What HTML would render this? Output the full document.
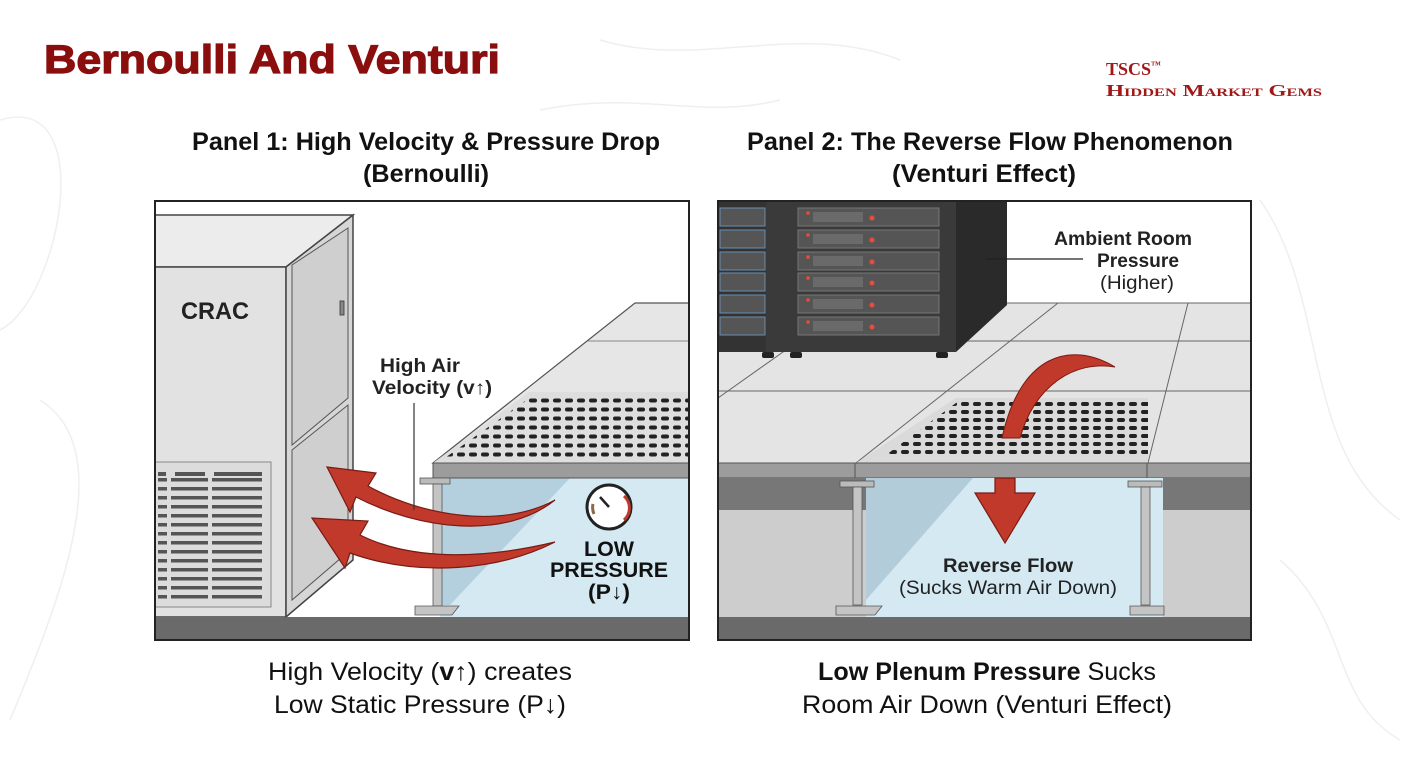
<!DOCTYPE html>
<html><head><meta charset="utf-8"><style>
html,body{margin:0;padding:0;background:#fff}
svg{display:block}
text{font-family:"Liberation Sans",sans-serif}
</style></head><body>
<svg width="1405" height="766" viewBox="0 0 1405 766" xmlns="http://www.w3.org/2000/svg">
<defs>
<pattern id="holes" x="0" y="0" width="12" height="9" patternUnits="userSpaceOnUse">
<rect x="1" y="2.5" width="8" height="4" rx="2" fill="#222"/>
</pattern>
<pattern id="holes2" x="0" y="0" width="12" height="8" patternUnits="userSpaceOnUse">
<rect x="1" y="2" width="8" height="4" rx="2" fill="#222"/>
</pattern>
</defs>
<rect width="1405" height="766" fill="#fff"/>
<g fill="none" stroke="#f1eeee" stroke-width="1.5">
<path d="M0 120 C100 90 60 300 0 330"/><path d="M40 400 C120 450 60 600 10 720"/>
<path d="M1260 200 C1330 300 1300 450 1400 520"/><path d="M1280 560 C1350 620 1330 700 1400 740"/>
<path d="M600 40 C700 70 800 20 900 60"/><path d="M540 110 C640 90 700 120 780 100"/>
</g>
<!-- Title -->
<text x="44" y="73" font-size="40" font-weight="bold" fill="#8b0e0e" stroke="#8b0e0e" stroke-width="1.2" textLength="456" lengthAdjust="spacingAndGlyphs">Bernoulli And Venturi</text>
<text x="1106" y="75" font-size="18" font-weight="bold" fill="#a01818" style="font-family:'Liberation Serif',serif">TSCS<tspan font-size="10" dy="-7">™</tspan></text>
<text x="1106" y="96" font-size="17" font-weight="bold" fill="#a01818" style="font-family:'Liberation Serif',serif;font-variant:small-caps" textLength="216" lengthAdjust="spacingAndGlyphs">Hidden Market Gems</text>

<!-- Panel titles -->
<text x="426" y="150" font-size="25" font-weight="bold" fill="#111" text-anchor="middle" textLength="468" lengthAdjust="spacingAndGlyphs">Panel 1: High Velocity &amp; Pressure Drop</text>
<text x="426" y="182" font-size="25" font-weight="bold" fill="#111" text-anchor="middle" textLength="126" lengthAdjust="spacingAndGlyphs">(Bernoulli)</text>
<text x="990" y="150" font-size="25" font-weight="bold" fill="#111" text-anchor="middle" textLength="486" lengthAdjust="spacingAndGlyphs">Panel 2: The Reverse Flow Phenomenon</text>
<text x="984" y="182" font-size="25" font-weight="bold" fill="#111" text-anchor="middle" textLength="184" lengthAdjust="spacingAndGlyphs">(Venturi Effect)</text>

<!-- PANEL 1 -->
<g>
<rect x="155" y="201" width="534" height="439" fill="#fff"/>
<rect x="440" y="478" width="249" height="139" fill="#d5e9f3"/>
<polygon points="440,478 570,478 450,605 440,605" fill="#b4d0de"/>
<!-- CRAC -->
<polygon points="155,215 353,215 286,267 155,267" fill="#ececec" stroke="#444" stroke-width="1.5"/>
<rect x="155" y="267" width="131" height="350" fill="#e2e2e2" stroke="#444" stroke-width="1.5"/>
<polygon points="286,267 353,215 353,560 286,617" fill="#d6d6d6" stroke="#444" stroke-width="1.5"/>
<polygon points="292,265 348,228 348,398 292,445" fill="#cfcfcf" stroke="#555" stroke-width="1"/>
<polygon points="292,450 348,405 348,552 292,600" fill="#cfcfcf" stroke="#555" stroke-width="1"/>
<rect x="340" y="301" width="4" height="14" fill="#888" stroke="#333" stroke-width="0.8"/>
<text x="181" y="319" font-size="24" font-weight="bold" fill="#222" textLength="68" lengthAdjust="spacingAndGlyphs">CRAC</text>
<rect x="155" y="462" width="116" height="145" fill="#dcdcdc" stroke="#888" stroke-width="1"/>
<g fill="#555">
<rect x="158" y="472" width="8" height="4"/><rect x="175" y="472" width="30" height="4"/><rect x="214" y="472" width="48" height="4"/>
</g>
<g fill="#555">
<rect x="158" y="478" width="104" height="3.5"/><rect x="158" y="487" width="104" height="3.5"/><rect x="158" y="496" width="104" height="3.5"/><rect x="158" y="505" width="104" height="3.5"/><rect x="158" y="514" width="104" height="3.5"/><rect x="158" y="523" width="104" height="3.5"/><rect x="158" y="532" width="104" height="3.5"/><rect x="158" y="541" width="104" height="3.5"/><rect x="158" y="550" width="104" height="3.5"/><rect x="158" y="559" width="104" height="3.5"/><rect x="158" y="568" width="104" height="3.5"/><rect x="158" y="577" width="104" height="3.5"/><rect x="158" y="586" width="104" height="3.5"/><rect x="158" y="595" width="104" height="3.5"/>
</g>
<rect x="167" y="470" width="4" height="132" fill="#dcdcdc"/><rect x="208" y="470" width="4" height="132" fill="#dcdcdc"/>
<!-- raised floor -->
<polygon points="433,463 635,303 689,303 689,463" fill="#e6e6e6" stroke="#555" stroke-width="1.2"/>
<line x1="588" y1="341" x2="689" y2="341" stroke="#888" stroke-width="1"/>
<polygon points="433,463 529,392 689,392 689,463" fill="#dedede"/>
<polygon points="442,460 532,396 689,396 689,460" fill="url(#holes)"/>
<polygon points="433,463 689,463 689,478 433,478" fill="#9c9c9c" stroke="#555" stroke-width="1"/>
<rect x="420" y="478" width="30" height="6" fill="#bbb" stroke="#555" stroke-width="0.8"/>
<rect x="433" y="484" width="9" height="122" fill="#c4c4c4" stroke="#555" stroke-width="0.8"/>
<polygon points="415,606 459,606 452,615 415,615" fill="#c4c4c4" stroke="#555" stroke-width="0.8"/>
<rect x="155" y="617" width="534" height="23" fill="#6a6a6a"/>
<!-- arrows -->
<path d="M555,500 C500,530 420,515 368,486 L376,473 L327,467 L350,512 L356,497 C420,530 505,540 555,500 Z" fill="#c0392b" stroke="#7a1a12" stroke-width="1.2"/>
<path d="M555,542 C480,560 410,560 360,535 L368,521 L312,518 L345,568 L350,553 C420,578 500,570 555,542 Z" fill="#c0392b" stroke="#7a1a12" stroke-width="1.2"/>
<line x1="414" y1="403" x2="414" y2="510" stroke="#333" stroke-width="1.2"/>
<text x="420" y="372" font-size="19" font-weight="bold" fill="#222" text-anchor="middle" textLength="80" lengthAdjust="spacingAndGlyphs">High Air</text>
<text x="432" y="394" font-size="19" font-weight="bold" fill="#222" text-anchor="middle" textLength="120" lengthAdjust="spacingAndGlyphs">Velocity (v↑)</text>
<circle cx="609" cy="507" r="22" fill="#fff" stroke="#222" stroke-width="3"/>
<path d="M624,496 A16,16 0 0 1 624,520" fill="none" stroke="#c0392b" stroke-width="3"/>
<path d="M594,514 A16,16 0 0 1 593,504" fill="none" stroke="#8a6a4a" stroke-width="3"/>
<line x1="609" y1="507" x2="600" y2="497" stroke="#222" stroke-width="2.5"/>
<text x="609" y="556" font-size="21" font-weight="bold" fill="#111" text-anchor="middle" textLength="50" lengthAdjust="spacingAndGlyphs">LOW</text>
<text x="609" y="577" font-size="21" font-weight="bold" fill="#111" text-anchor="middle" textLength="118" lengthAdjust="spacingAndGlyphs">PRESSURE</text>
<text x="609" y="599" font-size="21" font-weight="bold" fill="#111" text-anchor="middle" textLength="42" lengthAdjust="spacingAndGlyphs">(P↓)</text>
<rect x="155" y="201" width="534" height="439" fill="none" stroke="#222" stroke-width="2"/>
</g>

<!-- PANEL 2 -->
<g>
<rect x="718" y="201" width="533" height="439" fill="#fff"/>
<rect x="718" y="303" width="533" height="160" fill="#e4e4e4"/>
<g stroke="#666" stroke-width="1" fill="none">
<line x1="718" y1="341" x2="1251" y2="341"/><line x1="718" y1="391" x2="1251" y2="391"/>
<line x1="718" y1="303" x2="1251" y2="303"/>
<line x1="718" y1="398" x2="800" y2="340"/><line x1="856" y1="463" x2="1058" y2="303"/>
<line x1="1148" y1="463" x2="1188" y2="303"/>
</g>
<rect x="718" y="201" width="238" height="151" fill="#3a3a3a"/>
<polygon points="956,201 1007,201 1007,305 956,352" fill="#2a2a2a"/>
<rect x="718" y="201" width="48" height="151" fill="#333"/>
<g fill="#555" stroke="#6a8fb0" stroke-width="1">
<rect x="720" y="208" width="45" height="18"/><rect x="720" y="230" width="45" height="18"/><rect x="720" y="252" width="45" height="18"/><rect x="720" y="273" width="45" height="18"/><rect x="720" y="295" width="45" height="18"/><rect x="720" y="317" width="45" height="18"/>
</g>
<g fill="#555" stroke="#777">
<rect x="798" y="208" width="141" height="18"/><rect x="798" y="230" width="141" height="18"/><rect x="798" y="252" width="141" height="18"/><rect x="798" y="273" width="141" height="18"/><rect x="798" y="295" width="141" height="18"/><rect x="798" y="317" width="141" height="18"/>
</g>
<g fill="#e74c3c">
<circle cx="872" cy="218" r="2.5"/><circle cx="872" cy="240" r="2.5"/><circle cx="872" cy="262" r="2.5"/><circle cx="872" cy="283" r="2.5"/><circle cx="872" cy="305" r="2.5"/><circle cx="872" cy="327" r="2.5"/>
<circle cx="808" cy="213" r="1.8"/><circle cx="808" cy="235" r="1.8"/><circle cx="808" cy="257" r="1.8"/><circle cx="808" cy="278" r="1.8"/><circle cx="808" cy="300" r="1.8"/><circle cx="808" cy="322" r="1.8"/>
</g>
<g fill="#6a6a6a">
<rect x="813" y="212" width="50" height="10"/><rect x="813" y="234" width="50" height="10"/><rect x="813" y="256" width="50" height="10"/><rect x="813" y="277" width="50" height="10"/><rect x="813" y="299" width="50" height="10"/><rect x="813" y="321" width="50" height="10"/>
</g>
<g fill="#222"><rect x="762" y="352" width="12" height="6" rx="2"/><rect x="790" y="352" width="12" height="6" rx="2"/><rect x="936" y="352" width="12" height="6" rx="2"/></g>
<polygon points="856,463 956,398 1148,398 1148,463" fill="#dadada"/>
<polygon points="882,458 960,400 1148,400 1148,458" fill="url(#holes2)"/>
<rect x="718" y="463" width="533" height="15" fill="#9c9c9c" stroke="#555" stroke-width="1"/>
<line x1="855" y1="463" x2="855" y2="478" stroke="#555"/><line x1="1147" y1="463" x2="1147" y2="478" stroke="#555"/>
<rect x="718" y="478" width="533" height="32" fill="#777"/>
<rect x="718" y="510" width="533" height="107" fill="#cdcdcd"/>
<rect x="866" y="478" width="297" height="139" fill="#d5e9f3"/>
<polygon points="866,478 973,478 866,600" fill="#b2ccd9"/>
<rect x="840" y="481" width="34" height="6" fill="#bbb" stroke="#555" stroke-width="0.8"/>
<rect x="853" y="487" width="9" height="118" fill="#c4c4c4" stroke="#555" stroke-width="0.8"/>
<polygon points="836,606 882,606 875,615 836,615" fill="#c4c4c4" stroke="#555" stroke-width="0.8"/>
<rect x="1128" y="481" width="34" height="6" fill="#bbb" stroke="#555" stroke-width="0.8"/>
<rect x="1141" y="487" width="9" height="118" fill="#c4c4c4" stroke="#555" stroke-width="0.8"/>
<polygon points="1130,606 1164,606 1164,615 1130,615" fill="#c4c4c4" stroke="#555" stroke-width="0.8"/>
<rect x="718" y="617" width="533" height="23" fill="#6a6a6a"/>
<path d="M1115,367 C1070,340 1020,355 1002,438 L1020,438 C1035,385 1075,360 1115,367 Z" fill="#c0392b" stroke="#7a1a12" stroke-width="1"/>
<path d="M995,478 L995,493 L975,493 L1005,543 L1035,493 L1015,493 L1015,478 Z" fill="#c0392b" stroke="#7a1a12" stroke-width="1.2"/>
<line x1="986" y1="259" x2="1083" y2="259" stroke="#222" stroke-width="1.2"/>
<text x="1123" y="245" font-size="19" font-weight="bold" fill="#222" text-anchor="middle" textLength="138" lengthAdjust="spacingAndGlyphs">Ambient Room</text>
<text x="1138" y="267" font-size="19" font-weight="bold" fill="#222" text-anchor="middle" textLength="82" lengthAdjust="spacingAndGlyphs">Pressure</text>
<text x="1137" y="289" font-size="19" fill="#222" text-anchor="middle" textLength="74" lengthAdjust="spacingAndGlyphs">(Higher)</text>
<text x="1008" y="572" font-size="19" font-weight="bold" fill="#222" text-anchor="middle" textLength="130" lengthAdjust="spacingAndGlyphs">Reverse Flow</text>
<text x="1008" y="594" font-size="19" fill="#222" text-anchor="middle" textLength="218" lengthAdjust="spacingAndGlyphs">(Sucks Warm Air Down)</text>
<rect x="718" y="201" width="533" height="439" fill="none" stroke="#222" stroke-width="2"/>
</g>

<text x="420" y="680" font-size="25" fill="#111" text-anchor="middle" textLength="304" lengthAdjust="spacingAndGlyphs">High Velocity (<tspan font-weight="bold">v↑</tspan>) creates</text>
<text x="420" y="713" font-size="25" fill="#111" text-anchor="middle" textLength="292" lengthAdjust="spacingAndGlyphs">Low Static Pressure (P↓)</text>
<text x="987" y="680" font-size="25" fill="#111" text-anchor="middle" textLength="338" lengthAdjust="spacingAndGlyphs"><tspan font-weight="bold">Low Plenum Pressure</tspan> Sucks</text>
<text x="987" y="713" font-size="25" fill="#111" text-anchor="middle" textLength="370" lengthAdjust="spacingAndGlyphs">Room Air Down (Venturi Effect)</text>
</svg>
</body></html>
